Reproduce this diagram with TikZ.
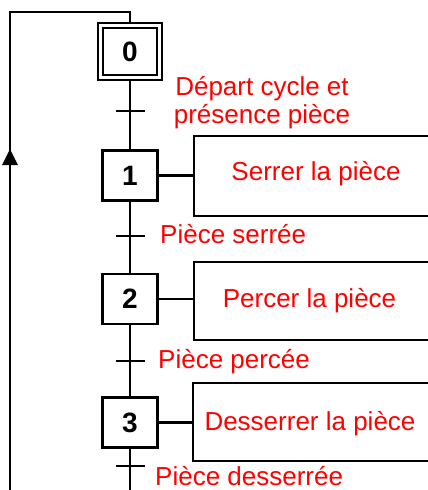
\documentclass[tikz,border=0pt]{standalone}
\usepackage{fontspec}
\setmainfont{Liberation Sans}
\tikzset{
  ln/.style={line width=2.2pt, black},
  stepbox/.style={draw, line width=2.2pt, minimum width=55pt, minimum height=50pt, inner sep=0pt,
    font=\fontsize{28}{30}\selectfont\bfseries},
  actbox/.style={draw, line width=2.2pt, inner sep=0pt},
  redtxt/.style={text=red, inner sep=0pt, font=\fontsize{26}{28}\selectfont},
  trans/.style={line width=2.2pt},
}
\begin{document}
\begin{tikzpicture}[x=1pt,y=-1pt]
\useasboundingbox (0,0) rectangle (428,490);
\clip (0,0) rectangle (428,490);
% steps
\node[stepbox, minimum width=64pt, minimum height=57pt] (s0o) at (130,51.5) {};
\node[stepbox, minimum width=54pt, minimum height=47pt] (s0) at (130,51.5) {0};
\node[stepbox] (s1) at (130,175.5) {1};
\node[stepbox] (s2) at (130,299) {2};
\node[stepbox] (s3) at (130,422.5) {3};
% action boxes
\node[actbox, minimum width=246pt, minimum height=80pt] (a1) at (317,176) {};
\node[actbox, minimum width=246pt, minimum height=78pt] (a2) at (317,301) {};
\node[actbox, minimum width=247pt, minimum height=78pt] (a3) at (316.5,422) {};
\node[redtxt, anchor=base] (l1) at (316,180.7) {Serrer la pièce};
\node[redtxt, anchor=base] (l2) at (309.5,307) {Percer la pièce};
\node[redtxt, anchor=base] (l3) at (310,430.7) {Desserrer la pièce};
% coordinates
\coordinate (top) at (130,12);
\coordinate (tl) at (10,12);
\coordinate (bl) at (10,492);
\coordinate (bot) at (130,492);
\coordinate (t1) at (130,111);
\coordinate (t2) at (130,236);
\coordinate (t3) at (130,361);
\coordinate (t4) at (130,466);
\coordinate (arr) at (10,149);
% main line
\draw[ln] (s0o.south) -- (s1.north);
\draw[ln] (s1.south) -- (s2.north);
\draw[ln] (s2.south) -- (s3.north);
\draw[ln] (s3.south) -- (bot);
\draw[ln] (bl) -- (tl) -- (top) -- (s0o.north);
\fill (arr) -- ++(-8,16) -- ++(16,0) -- cycle;
% transitions
\foreach \t in {t1,t2,t3,t4}{
  \draw[trans] ([xshift=-14.5pt]\t) -- ([xshift=14.5pt]\t);
}
% action connectors
\draw[ln] (s1.east) -- (s1.east -| a1.west);
\draw[ln] (s2.east) -- (s2.east -| a2.west);
\draw[ln] (s3.east) -- (s3.east -| a3.west);
% transition labels
\node[redtxt, anchor=base, align=center] (c1) at (262,123) {Départ cycle et\\présence pièce};
\node[redtxt, anchor=base west] (c2) at (160,243) {Pièce serrée};
\node[redtxt, anchor=base west] (c3) at (158,368) {Pièce percée};
\node[redtxt, anchor=base west] (c4) at (155,485) {Pièce desserrée};
\end{tikzpicture}
\end{document}
